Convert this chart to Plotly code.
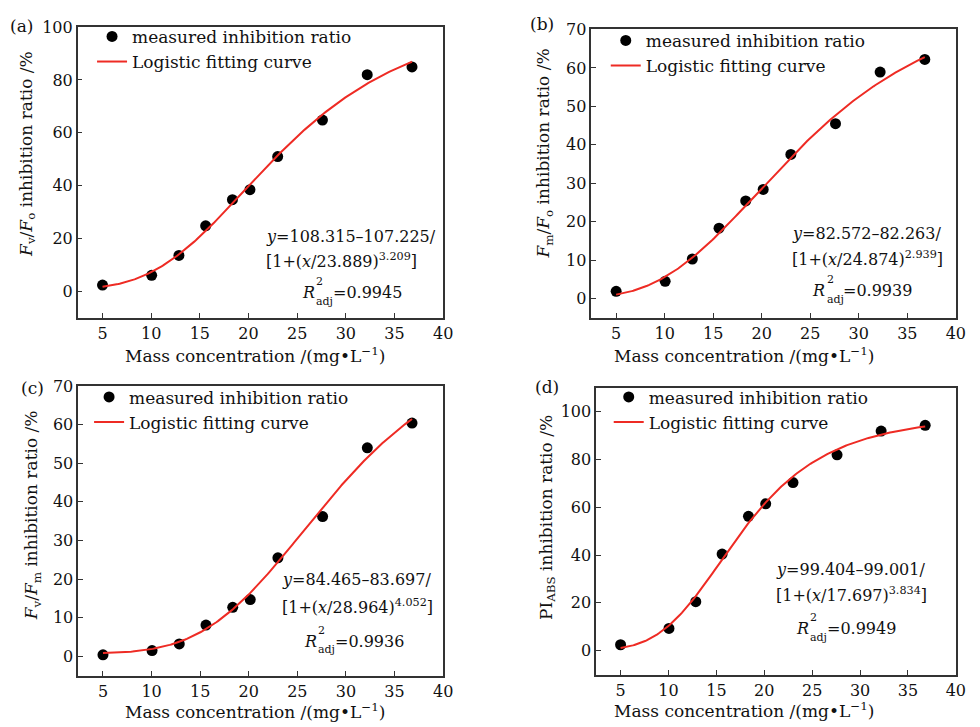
import numpy as np
import plotly.graph_objects as go

# ---------------- data ----------------
conc = [5.0, 10.05, 12.85, 15.6, 18.35, 20.15, 23.0, 27.6, 32.2, 36.8]
fv_fo = [2.4, 6.1, 13.6, 24.8, 34.7, 38.5, 51.0, 64.8, 82.0, 84.9]
fm_fo = [1.9, 4.5, 10.3, 18.3, 25.4, 28.4, 37.5, 45.5, 58.9, 62.2]
fv_fm = [0.4, 1.5, 3.2, 8.1, 12.7, 14.7, 25.5, 36.2, 54.0, 60.4]
pi_abs = [2.5, 9.3, 20.5, 40.4, 56.2, 61.4, 70.3, 81.9, 91.8, 94.2]

# logistic fit parameters printed on the chart: y = A1 - A2/[1+(x/x0)^p]
fit_a = [108.315, 107.225, 23.889, 3.209]
fit_b = [82.572, 82.263, 24.874, 2.939]
fit_c = [84.465, 83.697, 28.964, 4.052]
fit_d = [99.404, 99.001, 17.697, 3.834]
r2_adj = ["0.9945", "0.9939", "0.9936", "0.9949"]

panel_labels = ["(a)", "(b)", "(c)", "(d)"]
y_titles = [
    "<i>F</i><sub>v</sub>/<i>F</i><sub>o</sub> inhibition ratio /%",
    "<i>F</i><sub>m</sub>/<i>F</i><sub>o</sub> inhibition ratio /%",
    "<i>F</i><sub>v</sub>/<i>F</i><sub>m</sub> inhibition ratio /%",
    "PI<sub>ABS</sub> inhibition ratio /%",
]
x_title = "Mass concentration /(mg•L<sup>−1</sup>)"
x_ticks = [5, 10, 15, 20, 25, 30, 35, 40]
y_ticks_a = [0, 20, 40, 60, 80, 100]
y_ticks_b = [0, 10, 20, 30, 40, 50, 60, 70]
y_ticks_c = [0, 10, 20, 30, 40, 50, 60, 70]
y_ticks_d = [0, 20, 40, 60, 80, 100]

# ---------------- layout helpers ----------------
W, H = 980, 727
FONT = "DejaVu Serif"
RED = "#ee2b24"
INK = "#111111"
AX = "#333333"


def px(x):
    return x / W


def py(y):
    return 1 - y / H


# pixel boxes (left, right, top, bottom)
boxes = [
    (78.5, 447.7, 18.3, 312.7),
    (597.5, 965.7, 20.7, 312.7),
    (79.0, 447.7, 381.7, 675.0),
    (602.3, 965.7, 383.3, 674.0),
]
y_ranges = [[-10, 100], [-5, 70], [-5, 70], [-10, 110]]
y_tick_sets = [y_ticks_a, y_ticks_b, y_ticks_c, y_ticks_d]
series = [fv_fo, fm_fo, fv_fm, pi_abs]
fits = [fit_a, fit_b, fit_c, fit_d]

legend_pos = [(93, 10), (612, 14), (90, 375), (615, 375)]
label_pos = [(22, 17), (548, 15), (33, 384), (553, 383)]
ytitle_pos = [(27, 147), (550, 146), (33, 513), (553, 515)]
xtitle_pos = [(258, 350), (752, 350), (258, 711), (752, 710)]
# eq line1 left x, y ; line2 y ; R-line: R right edge x, y
eq_pos = [
    (267, 230, 255, 320, 287),
    (798, 227, 253, 836, 285),
    (283, 578, 605, 322, 640),
    (782, 568, 593, 819, 627),
]

fig = go.Figure()
layout = dict(
    width=W,
    height=H,
    margin=dict(l=0, r=0, t=0, b=0),
    paper_bgcolor="white",
    plot_bgcolor="white",
    font=dict(family=FONT, color=INK, size=16),
    annotations=[],
)

for i in range(4):
    n = "" if i == 0 else str(i + 1)
    xa, ya = "x" + n, "y" + n
    leg = "legend" if i == 0 else "legend" + str(i + 1)
    A1, A2, x0, p = fits[i]
    xc = np.linspace(conc[0], conc[-1], 200)
    yc = A1 - A2 / (1 + (xc / x0) ** p)

    fig.add_trace(go.Scatter(
        x=conc, y=series[i], mode="markers", name="measured inhibition ratio",
        marker=dict(color="black", size=11), xaxis=xa, yaxis=ya, legend=leg,
    ))
    fig.add_trace(go.Scatter(
        x=xc, y=yc, mode="lines", name="Logistic fitting curve",
        line=dict(color=RED, width=2), xaxis=xa, yaxis=ya, legend=leg,
    ))

    l, r, t, b = boxes[i]
    axcommon = dict(
        showline=True, mirror=True, linecolor=AX, linewidth=1.5,
        ticks="inside", ticklen=5, tickwidth=1.2, tickcolor=AX,
        showgrid=False, zeroline=False,
        tickfont=dict(family=FONT, size=16, color=INK),
    )
    layout["xaxis" + n] = dict(
        domain=[px(l), px(r)], range=[2.45, 40], tickvals=x_ticks,
        anchor=ya, **axcommon,
    )
    layout["yaxis" + n] = dict(
        domain=[py(b), py(t)], range=y_ranges[i], tickvals=y_tick_sets[i],
        anchor=xa, **axcommon,
    )
    lx, ly = legend_pos[i]
    layout[leg] = dict(
        x=px(lx), y=py(ly), xanchor="left", yanchor="top",
        bgcolor="rgba(0,0,0,0)", borderwidth=0,
        font=dict(family=FONT, size=17, color=INK),
    )

    ann = layout["annotations"]
    ax_, ay_ = label_pos[i]
    ann.append(dict(text=panel_labels[i], x=px(ax_), y=py(ay_), xref="paper", yref="paper",
                    showarrow=False, xanchor="center", yanchor="middle",
                    font=dict(family=FONT, size=17, color=INK)))
    tx, ty = ytitle_pos[i]
    ann.append(dict(text=y_titles[i], x=px(tx), y=py(ty), xref="paper", yref="paper",
                    showarrow=False, textangle=-90, xanchor="center", yanchor="middle",
                    font=dict(family=FONT, size=17, color=INK)))
    tx, ty = xtitle_pos[i]
    ann.append(dict(text=x_title, x=px(tx), y=py(ty), xref="paper", yref="paper",
                    showarrow=False, xanchor="center", yanchor="middle",
                    font=dict(family=FONT, size=17, color=INK)))
    ex, ey1, ey2, rx, ry = eq_pos[i]
    line1 = "<i>y</i>=%g–%g/" % (A1, A2)
    line2 = "[1+(<i>x</i>/%g)<sup>%s</sup>]" % (x0, ("%.3f" % p))
    for txt, yy in ((line1, ey1), (line2, ey2)):
        ann.append(dict(text=txt, x=px(ex), y=py(yy), xref="paper", yref="paper",
                        showarrow=False, xanchor="left", yanchor="middle",
                        font=dict(family=FONT, size=16, color=INK)))
    ann.append(dict(text="<i>R</i>", x=px(rx), y=py(ry), xref="paper", yref="paper",
                    showarrow=False, xanchor="right", yanchor="middle",
                    font=dict(family=FONT, size=16, color=INK)))
    ann.append(dict(text="2", x=px(rx - 3), y=py(ry - 11), xref="paper", yref="paper",
                    showarrow=False, xanchor="left", yanchor="middle",
                    font=dict(family=FONT, size=11, color=INK)))
    ann.append(dict(text="adj", x=px(rx - 3), y=py(ry + 9), xref="paper", yref="paper",
                    showarrow=False, xanchor="left", yanchor="middle",
                    font=dict(family=FONT, size=11, color=INK)))
    ann.append(dict(text="=" + r2_adj[i], x=px(rx + 14), y=py(ry), xref="paper", yref="paper",
                    showarrow=False, xanchor="left", yanchor="middle",
                    font=dict(family=FONT, size=16, color=INK)))

fig.update_layout(**layout)
fig.write_html("out.html")
